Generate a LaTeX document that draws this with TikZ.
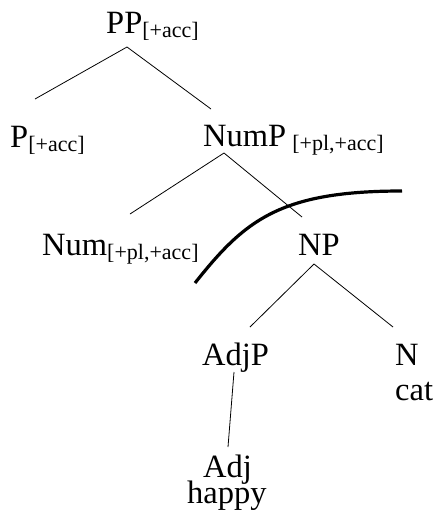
\documentclass[tikz,border=0pt]{standalone}
\usepackage{fontspec}
\setmainfont{Liberation Serif}
\newcommand{\mainsz}{\fontsize{32.5}{32.5}\selectfont}
\newcommand{\subsz}[1]{{\fontsize{22}{22}\selectfont\raisebox{-4.5pt}{#1}}}
\begin{document}
\begin{tikzpicture}[x=1pt,y=-1pt,
  lbl/.style={anchor=base west,inner sep=0pt,font=\mainsz},
  branch/.style={line width=0.8pt},
  cut/.style={line width=3.2pt}]
\useasboundingbox (0,0) rectangle (435,523);
\node[lbl] (PP) at (106,33) {PP\subsz{[+acc]}};
\node[lbl] (P) at (10,147) {P\subsz{[+acc]}};
\node[lbl] (NumP) at (203,146) {NumP\hspace{6pt}\subsz{[+pl,+acc]}};
\node[lbl] (Num) at (42,255) {Num\subsz{[+pl,+acc]}};
\node[lbl] (NP) at (298,255) {NP};
\node[lbl] (AdjP) at (202,365) {AdjP};
\node[lbl] (N) at (395,365) {N};
\node[lbl] (cat) at (395,400) {cat};
\node[lbl] (Adj) at (203,477) {Adj};
\node[lbl] (happy) at (187,503) {happy};
\coordinate (PPb) at (127,47);
\coordinate (Pt) at (35,99);
\coordinate (NumPt) at (211,109);
\coordinate (NumPb) at (224,153);
\coordinate (Numt) at (130,214);
\coordinate (NPt) at (302,217);
\coordinate (NPb) at (314,264);
\coordinate (AdjPt) at (250,327);
\coordinate (Nt) at (393,327);
\coordinate (AdjPb) at (234,372);
\coordinate (Adjt) at (228,447);
\coordinate (c0) at (195,283);
\coordinate (c1) at (402,191);
\draw[branch] (PPb) -- (Pt);
\draw[branch] (PPb) -- (NumPt);
\draw[branch] (NumPb) -- (Numt);
\draw[branch] (NumPb) -- (NPt);
\draw[branch] (NPb) -- (AdjPt);
\draw[branch] (NPb) -- (Nt);
\draw[branch] (AdjPb) -- (Adjt);
\draw[cut] (c0) .. controls (245,220) and (280,191) .. (c1);
\end{tikzpicture}
\end{document}
